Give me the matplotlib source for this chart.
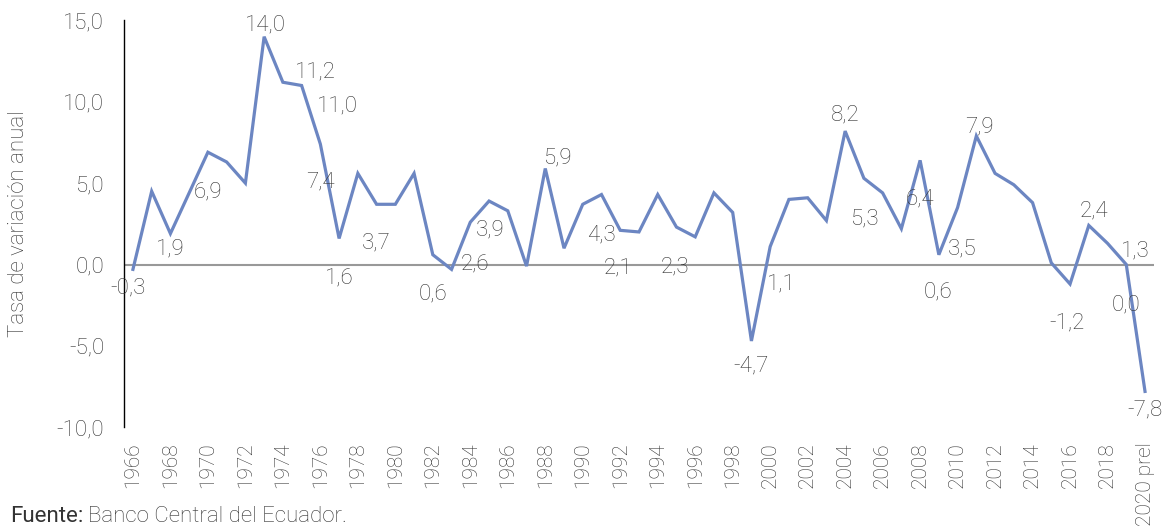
import matplotlib
matplotlib.use('Agg')
import matplotlib.pyplot as plt
import numpy as np

# PIB Ecuador, tasa de variacion anual
years = [str(y) for y in range(1966, 2020)] + ['2020 prel']
growth = [-0.3, 4.5, 1.9, 4.4, 6.9, 6.3, 5.0, 14.0, 11.2, 11.0,
          7.4, 1.6, 5.6, 3.7, 3.7, 5.6, 0.6, -0.3, 2.6, 3.9,
          3.3, -0.1, 5.9, 1.0, 3.7, 4.3, 2.1, 2.0, 4.3, 2.3,
          1.7, 4.4, 3.2, -4.7, 1.1, 4.0, 4.1, 2.7, 8.2, 5.3,
          4.4, 2.2, 6.4, 0.6, 3.5, 7.9, 5.6, 4.9, 3.8, 0.1,
          -1.2, 2.4, 1.3, 0.0, -7.8]
labeled_years = ['1966', '1968', '1970', '1973', '1974', '1975', '1976', '1977',
                 '1979', '1982', '1984', '1985', '1988', '1991', '1992', '1995',
                 '1999', '2000', '2004', '2005', '2008', '2009', '2010', '2011',
                 '2016', '2017', '2018', '2019', '2020 prel']
# label offsets in pixels (dx, dy)
label_offsets = [(-5, -19), (0, -15), (0, -40), (1, 12), (33, 10), (36, -20), (0, -38), (0, -40),
                 (0, -39), (0, -39), (5, -42), (1, -29), (12, 11), (0, -40), (-2, -38), (-1, -40),
                 (0, -25), (11, -38), (0, 16), (0, -41), (0, -39), (-1, -37), (5, -41), (3, 9),
                 (-3, -39), (5, 14), (28, -8), (0, -40), (0, -19)]

TXT = '#333333'
FS = 16
plt.rcParams['font.family'] = ['Roboto', 'DejaVu Sans']
plt.rcParams['font.weight'] = 'light'

fig = plt.figure(figsize=(11.69, 5.29), dpi=100)
ax = fig.add_axes([0.1057, 0.1924, 0.8818, 0.769])

x = np.arange(len(years))
ax.plot(x, growth, color='#6C86C2', lw=2.3, solid_joinstyle='miter')
ax.axhline(0, color='#999999', lw=1.5, zorder=1)

for yr, (dx, dy) in zip(labeled_years, label_offsets):
    i = years.index(yr)
    txt = f'{growth[i]:.1f}'.replace('.', ',')
    ax.annotate(txt, (i, growth[i]), xytext=(dx, dy), textcoords='offset pixels',
                ha='center', va='center', fontsize=FS, color=TXT)

ax.set_xlim(-0.5, len(years) - 0.5)
ax.set_ylim(-10, 15)
ax.set_yticks([-10, -5, 0, 5, 10, 15])
ax.set_yticklabels([f'{v:.1f}'.replace('.', ',') for v in [-10, -5, 0, 5, 10, 15]])
tick_idx = list(range(0, len(years) - 1, 2)) + [len(years) - 1]
ax.set_xticks(tick_idx)
ax.set_xticklabels([years[i] for i in tick_idx], rotation=90)
ax.tick_params(axis='both', length=0, labelsize=FS, labelcolor=TXT)
ax.tick_params(axis='x', pad=11, labelsize=15)
ax.tick_params(axis='y', pad=14)

for s in ['top', 'right', 'bottom']:
    ax.spines[s].set_visible(False)
ax.spines['left'].set_color('black')
ax.spines['left'].set_linewidth(1)

ax.set_ylabel('Tasa de variación anual', fontsize=FS, color=TXT, weight='light')
ax.yaxis.set_label_coords(-0.092, 0.5)

t1 = fig.text(10 / 1169, 1 - 517 / 529, 'Fuente:', fontsize=FS, color=TXT,
              weight='normal', va='center')
fig.canvas.draw()
bb = t1.get_window_extent()
fig.text((bb.x1 + 5) / 1169, 1 - 517 / 529, 'Banco Central del Ecuador.', fontsize=FS,
         color=TXT, va='center')

fig.savefig('out.png', dpi=100)
